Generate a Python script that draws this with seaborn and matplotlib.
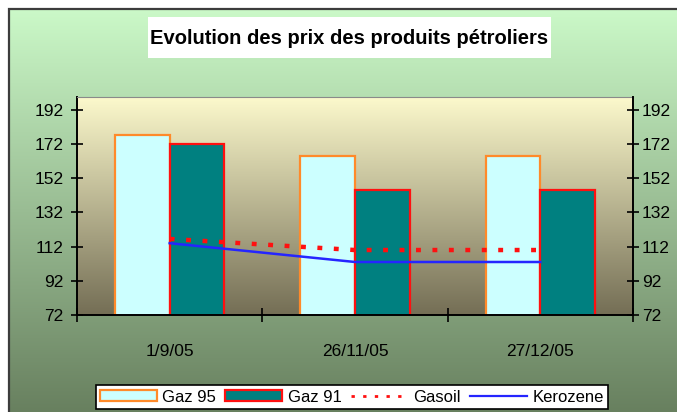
import numpy as np
import pandas as pd
import matplotlib
matplotlib.use('Agg')
import matplotlib.pyplot as plt
import seaborn as sns
from matplotlib.colors import LinearSegmentedColormap
from matplotlib.patches import Patch, Rectangle
from matplotlib.lines import Line2D

# data
dates = ['1/9/05', '26/11/05', '27/12/05']
gaz95 = [177, 165, 165]
gaz91 = [172, 145, 145]
gasoil = [116.5, 110, 110]
kerozene = [114, 103, 103]
y_ticks = [72, 92, 112, 132, 152, 172, 192]

plt.rcParams['font.family'] = ['Liberation Sans', 'DejaVu Sans']

W, H = 677, 412
fig = plt.figure(figsize=(W / 100, H / 100), dpi=100, facecolor='white')


def gradient_axes(rect, top, bottom, z):
    a = fig.add_axes(rect, zorder=z)
    cmap = LinearSegmentedColormap.from_list('grad', [bottom, top])
    a.imshow(np.linspace(0, 1, 256).reshape(-1, 1), cmap=cmap, aspect='auto',
             origin='lower', extent=[0, 1, 0, 1])
    a.set_axis_off()
    return a


# outer green panel + frame
gradient_axes([9 / W, 0, 1, 403 / H], '#cbf9c8', '#68805f', 0)
fig.add_artist(Rectangle((8.5 / W, -0.05), 1.1, 403.5 / H + 0.05, transform=fig.transFigure,
                         fill=False, ec='#3c3c3c', lw=1.6, zorder=5))

# title box
fig.add_artist(Rectangle((148 / W, (H - 58) / H), 403 / W, 41 / H, transform=fig.transFigure,
                         fc='white', ec='none', zorder=6))
fig.text(349 / W, (H - 39) / H, 'Evolution des prix des produits pétroliers',
         ha='center', va='center', fontsize=14.5, fontweight='bold', zorder=7)

# plot area
pos = [77 / W, 97 / H, 556 / W, 218 / H]
gradient_axes(pos, '#fcf9cc', '#746e55', 1)

ax = fig.add_axes(pos, zorder=2)
ax.patch.set_visible(False)

df = pd.DataFrame({
    'Date': dates * 2,
    'Prix': gaz95 + gaz91,
    'Produit': ['Gaz 95'] * len(dates) + ['Gaz 91'] * len(dates),
})
sns.barplot(data=df, x='Date', y='Prix', hue='Produit', palette=['#ccffff', '#008080'],
            saturation=1, width=0.59, gap=0, linewidth=1.6, legend=False, ax=ax)
for cont, ec in zip(ax.containers, ['#ff8a2a', '#ff1010']):
    for bar in cont:
        bar.set_edgecolor(ec)

ax.set_xlim(-0.5, len(dates) - 0.5)
ax.set_ylim(72, 199.5)
ax.set_yticks(y_ticks)
ax.set_xticks(np.arange(len(dates) + 1) - 0.5)
ax.set_xticklabels([])
ax.set_xticks(np.arange(len(dates)), minor=True)
ax.set_xticklabels(dates, minor=True)
ax.tick_params(axis='x', which='major', direction='inout', length=10, width=1.2)
ax.tick_params(axis='x', which='minor', length=0, pad=21, labelsize=12.5)
ax.tick_params(axis='y', direction='inout', length=9, width=1.2, pad=5, labelsize=12.5)
ax.set_xlabel('')
ax.set_ylabel('')
for s in ['left', 'bottom']:
    ax.spines[s].set_color('black')
    ax.spines[s].set_linewidth(1.4)
ax.spines['top'].set_color('#8a8a8a')
ax.spines['right'].set_visible(False)

# lines on secondary axis
ax2 = ax.twinx()
ax2.set_zorder(3)
ax2.patch.set_visible(False)
xs = np.arange(len(dates))
sns.lineplot(x=xs, y=gasoil, color='#ff1010', lw=3.2, ax=ax2)
ax2.lines[-1].set_linestyle((0, (1.1, 2.6)))
sns.lineplot(x=xs, y=kerozene, color='#2525ff', lw=1.8, ax=ax2)
ax2.set_ylim(72, 199.5)
ax2.set_yticks(y_ticks)
ax2.set_xlim(-0.5, len(dates) - 0.5)
ax2.tick_params(axis='y', direction='inout', length=9, width=1.2, pad=2, labelsize=12.5)
for s in ['top', 'left', 'bottom']:
    ax2.spines[s].set_visible(False)
ax2.spines['right'].set_color('black')
ax2.spines['right'].set_linewidth(1.4)

# legend
handles = [
    Patch(fc='#ccffff', ec='#ff8a2a', lw=1.6, label='Gaz 95'),
    Patch(fc='#008080', ec='#ff1010', lw=1.6, label='Gaz 91'),
    Line2D([], [], color='#ff1010', lw=2, ls=(0, (1.2, 3)), label='Gasoil'),
    Line2D([], [], color='#2525ff', lw=1.6, label='Kerozene'),
]
leg = fig.legend(handles=handles, loc='center', bbox_to_anchor=(352 / W, (H - 397) / H),
                 ncol=4, fontsize=12, frameon=True, fancybox=False, framealpha=1,
                 edgecolor='black', handlelength=3.4, handleheight=0.6,
                 handletextpad=0.35, columnspacing=0.55, borderpad=0.25)
leg.get_frame().set_linewidth(1.2)
leg.set_zorder(8)

fig.savefig('out.png', dpi=100)
